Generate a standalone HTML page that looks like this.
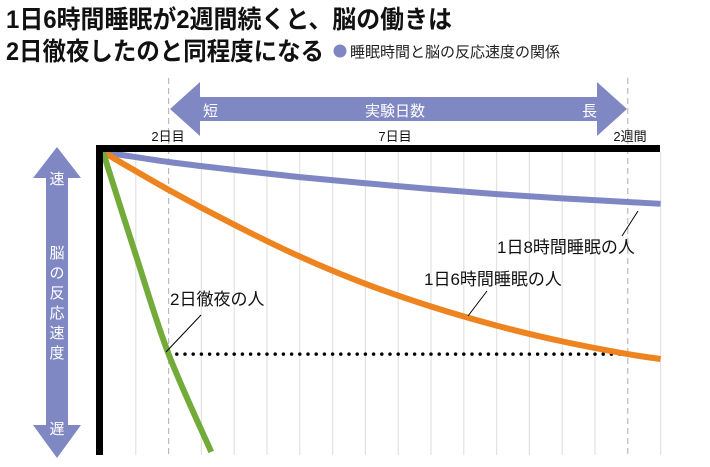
<!DOCTYPE html>
<html><head><meta charset="utf-8"><style>
body{margin:0;background:#fff}
svg{display:block;font-family:"Liberation Sans","Noto Sans CJK JP",sans-serif}
</style></head><body>
<svg id="chart" width="710" height="467" viewBox="0 0 710 467">
<text x="6" y="28" font-size="25" font-weight="bold" fill="#111" textLength="446" lengthAdjust="spacingAndGlyphs">1日6時間睡眠が2週間続くと、脳の働きは</text>
<text x="6" y="60" font-size="25" font-weight="bold" fill="#111" textLength="318" lengthAdjust="spacingAndGlyphs">2日徹夜したのと同程度になる</text>
<circle cx="340" cy="51" r="6.5" fill="#7f86c4"/>
<text x="350" y="57" font-size="15" fill="#222">睡眠時間と脳の反応速度の関係</text>
<g id="grid"></g>
<g>
<polygon points="170,109 200,82 200,97 597,97 597,82 627,109 597,136 597,121 200,121 200,136" fill="#8088c4"/>
<text x="203" y="116" font-size="15" fill="#fff">短</text>
<text x="395" y="116" font-size="15" fill="#fff" text-anchor="middle">実験日数</text>
<text x="582" y="116" font-size="15" fill="#fff">長</text>
</g>
<text x="168" y="141" font-size="13" text-anchor="middle" fill="#111">2日目</text>
<text x="395" y="141" font-size="13" text-anchor="middle" fill="#111">7日目</text>
<text x="630" y="141" font-size="13" text-anchor="middle" fill="#111">2週間</text>
<g>
<polygon points="57,147 81,178 68,178 68,425 81,425 57,458 33,425 46,425 46,178 33,178" fill="#8088c4"/>
<text x="57" y="184" font-size="15" fill="#fff" text-anchor="middle">速</text>
<text x="57" y="258" font-size="15" fill="#fff" text-anchor="middle">脳</text>
<text x="57" y="278" font-size="15" fill="#fff" text-anchor="middle">の</text>
<text x="57" y="298" font-size="15" fill="#fff" text-anchor="middle">反</text>
<text x="57" y="318" font-size="15" fill="#fff" text-anchor="middle">応</text>
<text x="57" y="338" font-size="15" fill="#fff" text-anchor="middle">速</text>
<text x="57" y="358" font-size="15" fill="#fff" text-anchor="middle">度</text>
<text x="57" y="434" font-size="15" fill="#fff" text-anchor="middle">遅</text>
</g>
<g id="series"></g>
<rect x="96" y="145" width="564" height="7" fill="#000"/>
<rect x="96" y="145" width="7" height="310" fill="#000"/>
<g>
<line x1="622" y1="236" x2="638" y2="211" stroke="#000" stroke-width="1"/>
<text x="497" y="253" font-size="17" fill="#111">1日8時間睡眠の人</text>
<line x1="468" y1="316" x2="487" y2="291" stroke="#000" stroke-width="1"/>
<text x="424" y="285" font-size="17" fill="#111">1日6時間睡眠の人</text>
<line x1="166" y1="352" x2="201" y2="315" stroke="#000" stroke-width="1"/>
<text x="170" y="305" font-size="17" fill="#111">2日徹夜の人</text>
</g>
</svg>
<script>
const days=[0,2,4,6,8,10,12,14,16,17];
const blueVals=[0,3.3,5.9,8.3,10.3,12.2,13.9,15.3,16.5,17.1];
const orangeVals=[0,12.5,24,34.5,43.5,51,57.3,62.5,66.7,68.3];
const greenDays=[0,1,2,3.3];
const greenVals=[0,34,66.7,99];
const dottedLevel=66.7;
const dottedFrom=2, dottedTo=16;
const NS="http://www.w3.org/2000/svg";
const xS=d=>103+d*32.8;
const yS=v=>152+v*3.03;
function mk(t,a,p){const e=document.createElementNS(NS,t);for(const k in a)e.setAttribute(k,a[k]);p.appendChild(e);return e;}
const grid=document.getElementById('grid');
for(let k=1;k<=17;k++){
  const dashed=(k===dottedFrom||k===dottedTo);
  const l=mk('line',{x1:xS(k),x2:xS(k),y1:dashed?78:152,y2:455,stroke:dashed?'#bbb':'#e2e2e2','stroke-width':1.2,'stroke-dasharray':dashed?'6,4':'none'},grid);
  
  
}
function path(xs,vs){
  const p=xs.map((d,i)=>[xS(d),yS(vs[i])]);
  let s='M'+p[0][0]+','+p[0][1];
  for(let i=0;i<p.length-1;i++){
    const p0=p[i-1]||p[i],p1=p[i],p2=p[i+1],p3=p[i+2]||p2;
    s+=' C'+(p1[0]+(p2[0]-p0[0])/6)+','+(p1[1]+(p2[1]-p0[1])/6)+' '+(p2[0]-(p3[0]-p1[0])/6)+','+(p2[1]-(p3[1]-p1[1])/6)+' '+p2[0]+','+p2[1];
  }
  return s;
}
const sg=document.getElementById('series');
const dl=mk('line',{x1:xS(dottedFrom),x2:xS(dottedTo),y1:yS(dottedLevel),y2:yS(dottedLevel),stroke:'#000','stroke-width':3.5,'stroke-dasharray':'0,8.2','stroke-linecap':'round'},sg);


const b=mk('path',{d:path(days,blueVals),fill:'none',stroke:'#7f86c4','stroke-width':6},sg);


const o=mk('path',{d:path(days,orangeVals),fill:'none',stroke:'#ee8420','stroke-width':6},sg);


const g=mk('path',{d:path(greenDays,greenVals),fill:'none',stroke:'#72ab3a','stroke-width':6},sg);


</script>
</body></html>
